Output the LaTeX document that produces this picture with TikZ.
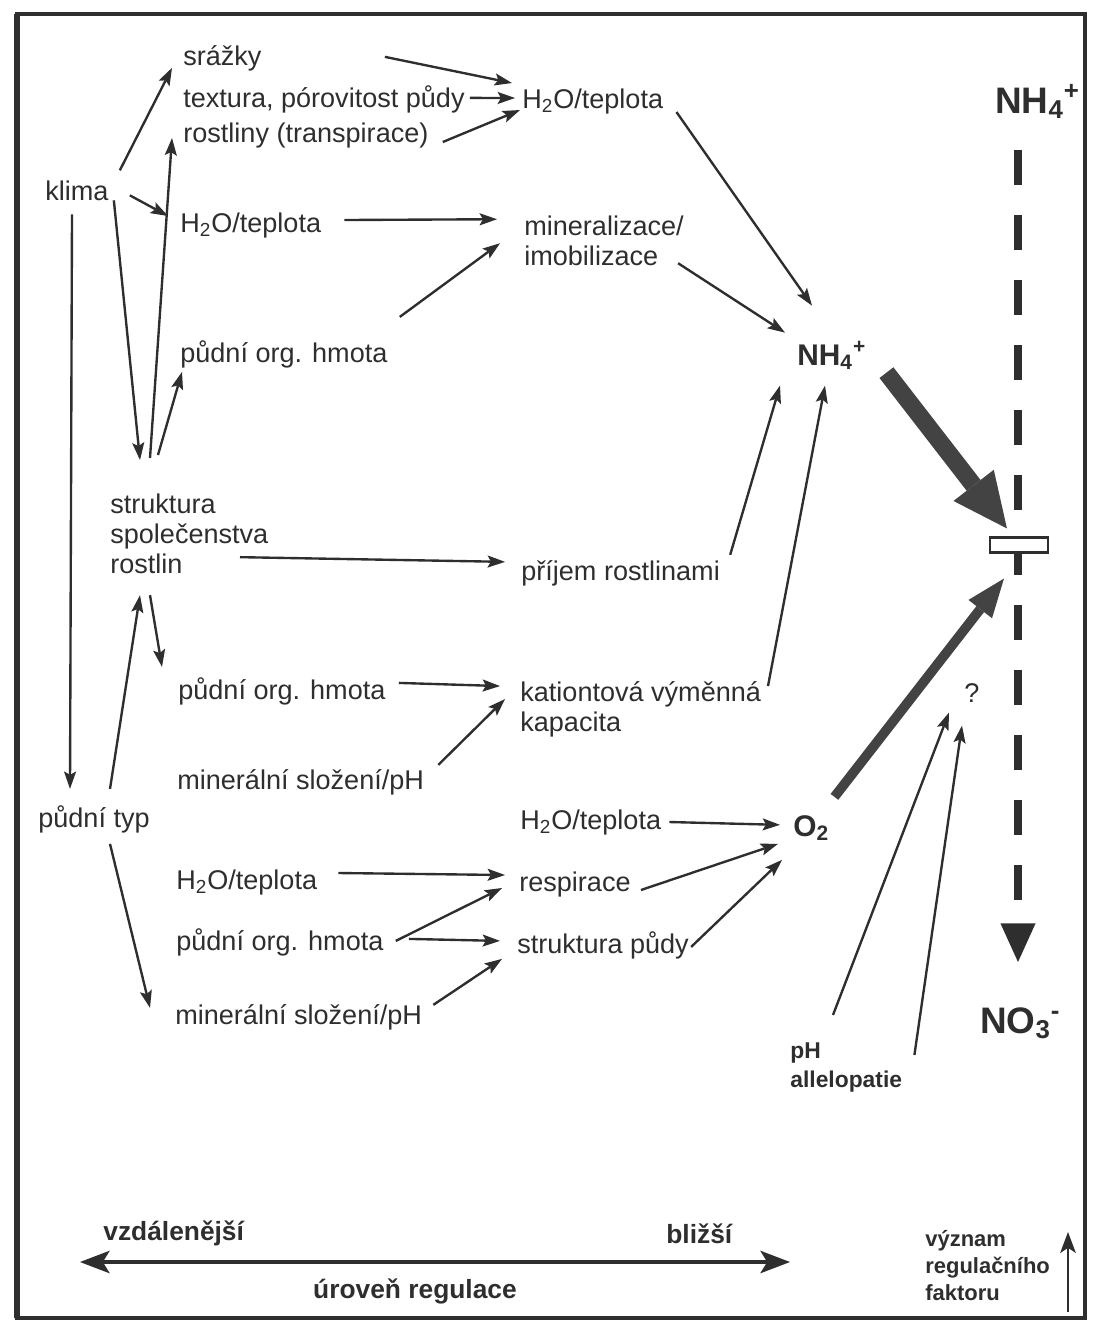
\documentclass[tikz,border=0pt]{standalone}
\usepackage{fontspec}
\setmainfont{Liberation Sans}
\usetikzlibrary{arrows.meta, calc}
\definecolor{inkgray}{HTML}{2E2E2E}

\begin{document}
\begin{tikzpicture}[x=0.02cm, y=-0.02cm,
        lbl/.style={font=\fontsize{15.4}{17}\selectfont, inner sep=0pt, anchor=base west, text=inkgray},
        lbls/.style={lbl, anchor=north west, align=left},
        ion/.style={font=\bfseries\fontsize{21}{24}\selectfont, inner sep=0pt, anchor=base west, text=inkgray},
        ionm/.style={ion, font=\bfseries\fontsize{17}{20}\selectfont},
        axislbl/.style={font=\bfseries\fontsize{15}{17}\selectfont, inner sep=0pt, anchor=base west, text=inkgray},
        smalllbl/.style={font=\bfseries\fontsize{12.5}{15.4}\selectfont, inner sep=0pt, anchor=north west, align=left, text=inkgray},
        gatebox/.style={draw=inkgray, fill=white, line width=1.2pt, minimum width=1.16cm, minimum height=0.3cm, inner sep=0pt},
        arr/.style={-{Stealth[length=10pt, width=7pt, inset=2pt, line width=0pt]}, line width=1.35pt, draw=inkgray},
        bigarr/.style={-{Triangle[length=31pt, width=29pt, line width=0pt]}, line width=10pt, draw=inkgray!90},
        midarr/.style={-{Triangle[length=22pt, width=17pt, line width=0pt]}, line width=5.5pt, draw=inkgray!90},
        dashline/.style={-{Triangle[length=22pt, width=20pt, line width=0pt]}, line width=4.5pt, draw=inkgray, dash pattern=on 20pt off 17pt},
        scalearr/.style={{Stealth[length=17pt, width=13pt, inset=4pt, line width=0pt]}-{Stealth[length=17pt, width=13pt, inset=4pt, line width=0pt]}, line width=2.8pt, draw=inkgray}
    ]
    \useasboundingbox (0,0) rectangle (1095,1323);
    % frame
    \draw[inkgray, line width=2pt] (17,14) rectangle (1085,1318);
    \draw[inkgray, line width=3pt] (17,14) -- (17,1318);

    % labels
    \node[lbl] (srazky) at (183,65) {srážky};
    \node[lbl] (textura) at (183,107) {textura, pórovitost půdy};
    \node[lbl] (rostliny) at (183,142) {rostliny (transpirace)};
    \node[lbl] (htop) at (522,108) {H\textsubscript{2}O/teplota};
    \node[lbl] (klima) at (45,200) {klima};
    \node[lbl] (htb) at (180,232) {H\textsubscript{2}O/teplota};
    \node[lbls] (mineral) at (524,216) {mineralizace/\\imobilizace};
    \node[lbl] (pudnia) at (180,362) {půdní org. hmota};
    \node[ionm] (nhmid) at (797,365) {NH\textsubscript{4}\textsuperscript{+}};
    \node[ion] (nhtop) at (995,113) {NH\textsubscript{4}\textsuperscript{+}};
    \node[lbls] (struktura) at (110,494) {struktura\\společenstva\\rostlin};
    \node[lbl] (prijem) at (521,580) {příjem rostlinami};
    \node[lbl] (pudnib) at (178,699) {půdní org. hmota};
    \node[lbls] (kation) at (520,681) {kationtová výměnná\\kapacita};
    \node[lbl] (minerala) at (177,789) {minerální složení/pH};
    \node[lbl] (quest) at (964,702) {?};
    \node[lbl] (pudnityp) at (38,827) {půdní typ};
    \node[lbl] (htc) at (520,829) {H\textsubscript{2}O/teplota};
    \node[ionm] (otwo) at (793,836) {O\textsubscript{2}};
    \node[lbl] (htd) at (176,889) {H\textsubscript{2}O/teplota};
    \node[lbl] (resp) at (519,891) {respirace};
    \node[lbl] (pudnic) at (176,950) {půdní org. hmota};
    \node[lbl] (strpudy) at (517,953) {struktura půdy};
    \node[lbl] (mineralb) at (175,1024) {minerální složení/pH};
    \node[ion] (nothree) at (980,1033) {NO\textsubscript{3}\textsuperscript{-}};
    \node[smalllbl, font=\bfseries\fontsize{13}{16.5}\selectfont] (phal) at (790,1042) {pH\\allelopatie};
    \node[axislbl] (vzdal) at (103,1240) {vzdálenější};
    \node[axislbl] (blizsi) at (666,1243) {bližší};
    \node[axislbl, anchor=base] (uroven) at (415,1298) {úroveň regulace};
    \node[smalllbl] (vyznam) at (925,1230) {význam\\regulačního\\faktoru};

    % NH4+ -> NO3- axis
    \coordinate (dtop) at (1018,150);
    \coordinate (dtip) at (1018,962);
    \draw[dashline] (dtop) -- (dtip);
    \node[gatebox] (gate) at (1019,545) {};

    % connectors
    \draw[arr] ($(klima.east)+(11,-20)$) -- ($(srazky.west)+(-11,10)$);
    \draw[arr] ($(klima.east)+(21,5)$) -- ($(htb.west)+(-12,-9)$);
    \draw[arr] ($(klima.east)+(5,10)$) -- ($(struktura.north west)+(30,-34)$);
    \draw[arr] ($(struktura.north west)+(40,-36)$) -- ($(rostliny.west)+(-11,3)$);
    \draw[arr] ($(struktura.north west)+(48,-39)$) -- ($(pudnia.west)+(2,18)$);
    \draw[arr] ($(klima.west)+(27,24)$) -- ($(pudnityp.west)+(32,-30)$);
    \draw[arr] ($(pudnityp.west)+(72,-30)$) -- ($(struktura.west)+(30,61)$);
    \draw[arr] ($(struktura.west)+(40,61)$) -- ($(pudnib.west)+(-16,-24)$);
    \draw[arr] ($(pudnityp.west)+(72,25)$) -- ($(mineralb.west)+(-25,-9)$);
    \draw[arr] ($(srazky.east)+(123,-1)$) -- ($(htop.west)+(-10,-18)$);
    \draw[arr] ($(textura.east)+(5,-1)$) -- ($(htop.west)+(-7,-3)$);
    \draw[arr] ($(rostliny.east)+(14,7)$) -- ($(htop.west)+(-2,9)$);
    \draw[arr] ($(htop.east)+(13,11)$) -- ($(nhmid.west)+(15,-50)$);
    \draw[arr] ($(htb.east)+(23,-5)$) -- ($(mineral.west)+(-27,-22)$);
    \draw[arr] ($(pudnia.east)+(12,-37)$) -- ($(mineral.west)+(-24,2)$);
    \draw[arr] ($(mineral.east)+(-6,22)$) -- ($(nhmid.west)+(-12,-23)$);
    \draw[arr] ($(struktura.west)+(130,23)$) -- ($(prijem.west)+(-16,-11)$);
    \draw[arr] ($(prijem.east)+(10,-18)$) -- ($(nhmid.west)+(-17,30)$);
    \draw[arr] ($(kation.west)+(248,-23)$) -- ($(nhmid.west)+(28,30)$);
    \draw[arr] ($(pudnib.east)+(13,-8)$) -- ($(kation.west)+(-20,-23)$);
    \draw[arr] ($(minerala.east)+(14,-17)$) -- ($(kation.west)+(-15,-10)$);
    \draw[arr] ($(htc.east)+(8,0)$) -- ($(otwo.west)+(-13,-3)$);
    \draw[arr] ($(htd.east)+(21,-9)$) -- ($(resp.west)+(-14,-9)$);
    \draw[arr] ($(pudnic.east)+(12,-1)$) -- ($(resp.west)+(-17,4)$);
    \draw[arr] ($(pudnic.east)+(25,-3)$) -- ($(strpudy.west)+(-17,-4)$);
    \draw[arr] ($(mineralb.east)+(11,-12)$) -- ($(strpudy.west)+(-15,14)$);
    \draw[arr] ($(resp.east)+(10,6)$) -- ($(otwo.west)+(-15,16)$);
    \draw[arr] ($(strpudy.east)+(2,2)$) -- ($(otwo.west)+(-11,32)$);
    \draw[bigarr] ($(nhmid.east)+(20,17)$) -- ($(gate.north west)+(18,-8)$);
    \draw[midarr] ($(otwo.east)+(5,-31)$) -- ($(gate.south west)+(15,25)$);
    \draw[arr] ($(phal.north west)+(43,-27)$) -- ($(quest.west)+(-15,20)$);
    \draw[arr] ($(phal.north east)+(12,13)$) -- ($(quest.west)+(-2,33)$);

    % scale arrows
    \coordinate (farend) at (80,1262);
    \coordinate (nearend) at (790,1262);
    \draw[scalearr] (farend) -- (nearend);
    \coordinate (sigbot) at (1068,1312);
    \coordinate (sigtop) at (1068,1232);
    \draw[-{Stealth[length=12pt, width=9pt, inset=3pt, line width=0pt]}, line width=1.6pt, draw=inkgray] (sigbot) -- (sigtop);
\end{tikzpicture}
\end{document}
